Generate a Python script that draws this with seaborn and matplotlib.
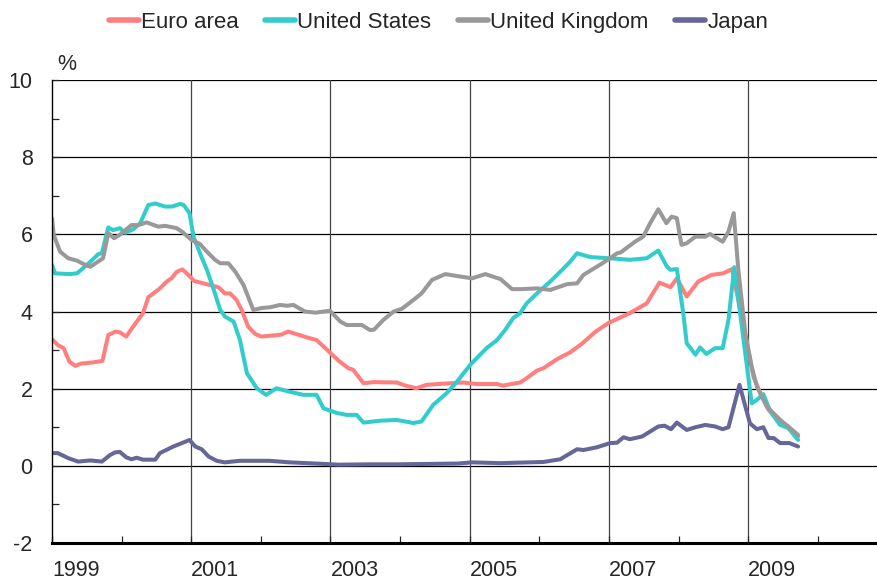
import numpy as np
import pandas as pd
import matplotlib
matplotlib.use("Agg")
import matplotlib.pyplot as plt
import seaborn as sns

# months since Jan 1999 and values in %
euro_m = [0, 1, 2, 3, 4, 5, 7, 8.7, 9.7, 10.9, 11.7, 12.8, 13.7, 15.7, 16.6, 18.6, 19.8, 20.6, 21.5, 22.5,
          23.5, 24.5, 26.1, 28.7, 29.8, 30.7, 31.8, 32.7, 33.8, 35, 36.1, 38.2, 39.5, 40.7, 42, 43.9, 45.6,
          47.4, 48.5, 49.6, 51.1, 51.9, 53.7, 55.4, 59.4, 60.9, 62.8, 64.6, 66.5, 70.9, 73.2, 76.7, 77.7,
          80.7, 81.8, 83.6, 84.7, 87.0, 89.3, 91.3, 93.7, 95.9, 99.6, 102.5, 104.7, 106.6, 107.7, 109.4,
          111.4, 113.7, 115.7, 117.2, 119.2, 120.9, 122.1, 123.5, 125.5, 128.6]
euro_v = [3.28, 3.13, 3.05, 2.70, 2.59, 2.65, 2.68, 2.72, 3.39, 3.48, 3.46, 3.35, 3.55, 3.96, 4.37, 4.60, 4.78,
          4.86, 5.03, 5.09, 4.95, 4.79, 4.73, 4.63, 4.47, 4.47, 4.30, 4.04, 3.61, 3.42, 3.35, 3.38, 3.40, 3.48,
          3.42, 3.33, 3.26, 3.01, 2.85, 2.70, 2.53, 2.49, 2.14, 2.17, 2.16, 2.08, 2.01, 2.10, 2.12, 2.16, 2.12,
          2.12, 2.08, 2.16, 2.27, 2.47, 2.53, 2.76, 2.94, 3.16, 3.48, 3.70, 3.96, 4.21, 4.75, 4.63, 4.86, 4.39,
          4.78, 4.95, 4.99, 5.10, 3.61, 2.31, 1.88, 1.45, 1.19, 0.76]

us_m = [0, 0.5, 3.1, 4.3, 5.1, 6.6, 8.0, 8.6, 9.7, 10.5, 11.7, 12.6, 14.0, 15.2, 16.6, 17.8, 19.5, 20.7, 22.1,
        22.7, 23.7, 24.4, 25.5, 26.7, 27.8, 29.0, 29.8, 31.3, 32.4, 33.6, 35.3, 36.9, 38.7, 40.7, 43.3, 45.6,
        46.8, 49.1, 50.8, 52.5, 53.7, 56.6, 59.4, 62.3, 63.7, 65.7, 68.0, 69.8, 72.1, 74.9, 76.7, 78.1, 79.5,
        80.7, 81.8, 83.6, 85.9, 88.2, 89.3, 90.5, 92.8, 96.2, 99.6, 102.5, 104.5, 106.0, 106.6, 107.7, 108.8,
        109.4, 110.9, 111.7, 112.8, 114.3, 115.6, 116.6, 117.6, 119.2, 120.6, 121.5, 122.6, 123.8, 125.5,
        126.9, 128.6]
us_v = [5.21, 4.99, 4.97, 4.99, 5.09, 5.29, 5.49, 5.51, 6.18, 6.11, 6.16, 6.04, 6.13, 6.29, 6.76, 6.80, 6.72,
        6.72, 6.79, 6.76, 6.55, 5.94, 5.51, 5.08, 4.60, 4.04, 3.87, 3.74, 3.26, 2.40, 2.01, 1.84, 2.01, 1.93,
        1.84, 1.84, 1.49, 1.37, 1.32, 1.32, 1.12, 1.17, 1.19, 1.11, 1.15, 1.58, 1.88, 2.18, 2.62, 3.05, 3.26,
        3.52, 3.83, 3.96, 4.21, 4.47, 4.78, 5.12, 5.29, 5.51, 5.41, 5.38, 5.34, 5.38, 5.58, 5.16, 5.08, 5.10,
        3.96, 3.18, 2.88, 3.07, 2.90, 3.05, 3.05, 3.78, 5.15, 3.26, 1.62, 1.71, 1.86, 1.41, 1.06, 0.98, 0.67]

uk_m = [0, 0.3, 1.4, 2.8, 4.3, 5.7, 6.6, 7.7, 8.8, 9.7, 10.7, 11.7, 13.7, 14.9, 16.3, 18.3, 19.5, 21.5, 22.4,
        24.1, 25.5, 26.7, 28.1, 29.0, 30.4, 31.6, 33.0, 34.7, 36.1, 37.6, 39.3, 40.5, 41.6, 43.6, 45.4, 47.9,
        49.7, 50.8, 53.4, 54.8, 55.5, 57.1, 58.9, 60.3, 62.3, 63.7, 65.5, 67.8, 69.8, 72.4, 74.7, 77.3, 79.3,
        81.0, 83.6, 85.9, 88.8, 90.5, 91.6, 93.9, 96.2, 97.4, 98.0, 100.5, 101.9, 103.1, 104.5, 105.9, 106.8,
        107.7, 108.5, 109.4, 110.9, 112.6, 113.4, 114.6, 115.6, 116.6, 117.5, 118.3, 119.5, 120.6, 121.5,
        123.2, 125.5, 126.9, 128.6]
uk_v = [6.42, 5.98, 5.55, 5.38, 5.32, 5.21, 5.16, 5.27, 5.38, 6.03, 5.90, 5.99, 6.24, 6.24, 6.31, 6.20, 6.22,
        6.16, 6.07, 5.85, 5.75, 5.55, 5.34, 5.25, 5.25, 5.03, 4.69, 4.04, 4.09, 4.11, 4.17, 4.15, 4.17, 4.00,
        3.97, 4.02, 3.74, 3.65, 3.65, 3.52, 3.53, 3.78, 4.00, 4.07, 4.30, 4.47, 4.82, 4.97, 4.92, 4.86, 4.97,
        4.84, 4.58, 4.58, 4.60, 4.56, 4.71, 4.73, 4.95, 5.16, 5.38, 5.51, 5.53, 5.81, 5.94, 6.29, 6.65, 6.29,
        6.46, 6.42, 5.73, 5.77, 5.94, 5.94, 6.01, 5.90, 5.81, 6.07, 6.55, 5.08, 3.44, 2.57, 2.05, 1.54, 1.19,
        1.02, 0.80]

jp_m = [0, 1.0, 2.8, 4.5, 6.6, 8.6, 10.0, 10.9, 11.7, 12.8, 13.7, 14.6, 15.7, 17.8, 18.6, 20.9, 22.4, 23.7,
        24.7, 25.8, 27.0, 28.4, 29.8, 32.3, 37.5, 41.0, 43.9, 46.8, 49.4, 55.0, 60.0, 65.0, 70.0, 72.4, 77.3,
        84.7, 87.6, 90.5, 91.6, 93.9, 96.2, 97.4, 98.5, 99.6, 101.7, 103.1, 104.5, 105.6, 106.7, 107.7,
        109.4, 110.9, 112.6, 114.3, 115.6, 116.6, 118.5, 120.3, 121.5, 122.6, 123.5, 124.4, 125.5, 127.1,
        128.6]
jp_v = [0.33, 0.33, 0.20, 0.11, 0.14, 0.11, 0.28, 0.35, 0.36, 0.22, 0.17, 0.21, 0.16, 0.16, 0.33, 0.50, 0.59,
        0.67, 0.50, 0.43, 0.24, 0.13, 0.09, 0.13, 0.13, 0.09, 0.07, 0.05, 0.03, 0.04, 0.04, 0.05, 0.06, 0.09,
        0.07, 0.10, 0.17, 0.43, 0.41, 0.48, 0.59, 0.60, 0.74, 0.69, 0.76, 0.89, 1.02, 1.04, 0.95, 1.12, 0.93,
        1.00, 1.06, 1.02, 0.95, 1.00, 2.10, 1.10, 0.95, 1.00, 0.72, 0.72, 0.59, 0.59, 0.50]

names = ["Euro area", "United States", "United Kingdom", "Japan"]
colors = ["#ff7f7f", "#33cccc", "#999999", "#666699"]
year_ticks = [1999, 2001, 2003, 2005, 2007, 2009]

frames = []
for name, m, v in zip(names, [euro_m, us_m, uk_m, jp_m], [euro_v, us_v, uk_v, jp_v]):
    frames.append(pd.DataFrame({"year": 1999 + np.array(m) / 12.0, "value": v, "series": name}))
df = pd.concat(frames, ignore_index=True)

sns.set_style("white")
plt.rcParams["font.family"] = ["Liberation Sans", "DejaVu Sans"]
plt.rcParams["axes.unicode_minus"] = False

fig = plt.figure(figsize=(8.77, 5.85), dpi=100)
ax = fig.add_axes([0.0593, 0.0718, 0.9407, 0.7914])

sns.lineplot(data=df, x="year", y="value", hue="series", hue_order=names,
             palette=colors, estimator=None, sort=False, linewidth=2.9, ax=ax)

ax.set_xlim(1999, 2010.85)
ax.set_ylim(-2, 10)
ax.set_yticks(range(-2, 11, 2))
ax.set_yticks(range(-1, 10, 2), minor=True)
ax.set_xticks(year_ticks)
ax.set_xticks(range(1999, 2011), minor=True)
ax.set_xticklabels([str(y) for y in year_ticks], ha="left")

for yv in range(0, 11, 2):
    ax.axhline(yv, color="black", lw=0.9, zorder=0)
for xv in year_ticks[1:]:
    ax.axvline(xv, color="#444444", lw=0.9, zorder=0)

for s in ["top", "right"]:
    ax.spines[s].set_visible(False)
ax.spines["left"].set_color("black")
ax.spines["left"].set_linewidth(1.0)
ax.spines["bottom"].set_color("black")
ax.spines["bottom"].set_linewidth(2.2)

ax.tick_params(axis="y", which="both", direction="in", length=5, width=0.9, left=True,
               labelsize=15.5, pad=14)
ax.tick_params(axis="x", which="both", direction="in", length=5, width=0.9, bottom=True,
               labelsize=15.5, pad=12)
ax.set_xlabel("")
ax.set_ylabel("")
ax.text(0.006, 1.01, "%", transform=ax.transAxes, fontsize=15.5, ha="left", va="bottom")

handles, labels = ax.get_legend_handles_labels()
ax.get_legend().remove()
for h in handles:
    h.set_linewidth(4)
fig.legend(handles, labels, loc="center", bbox_to_anchor=(0.5, 0.962), ncol=4, frameon=False,
           fontsize=16, handlelength=1.35, handletextpad=0.1, columnspacing=1.2)

fig.savefig("out.png", dpi=100)
